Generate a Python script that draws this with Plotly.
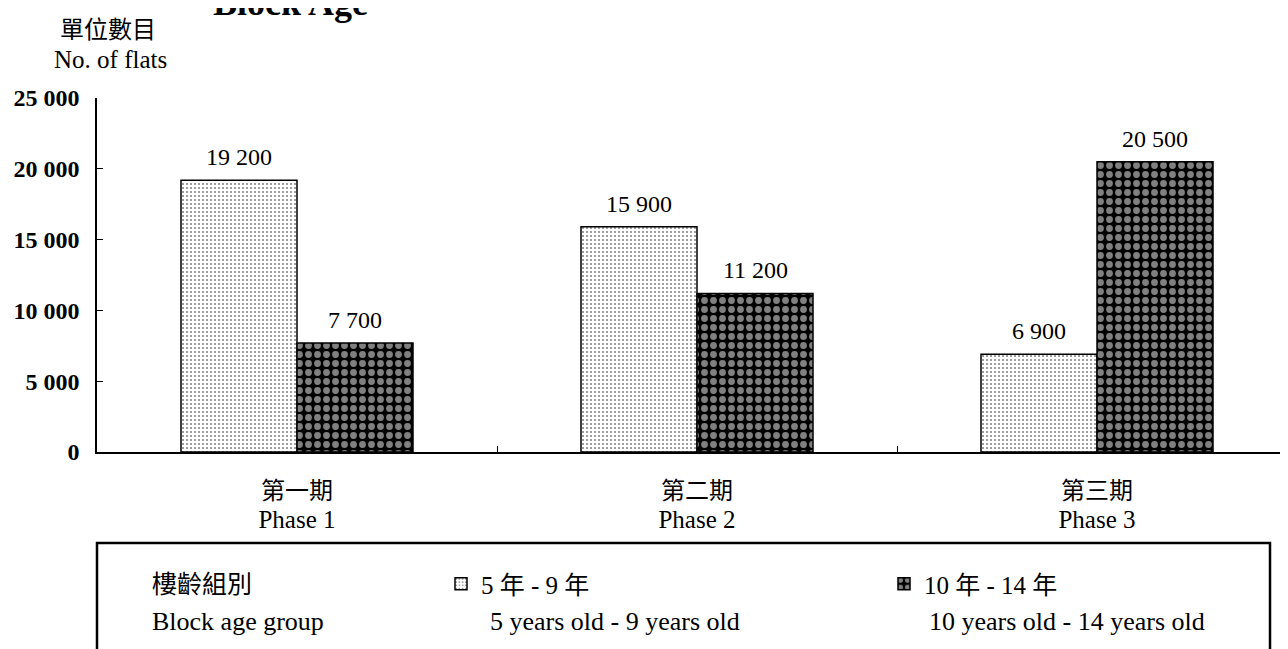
import plotly.graph_objects as go

categories = ["第一期", "第二期", "第三期"]
phase_en = ["Phase 1", "Phase 2", "Phase 3"]
series_names = ["5 年 - 9 年", "10 年 - 14 年"]
series_en = ["5 years old - 9 years old", "10 years old - 14 years old"]
age_5_9 = [19200, 15900, 6900]
age_10_14 = [7700, 11200, 20500]
y_ticks = [0, 5000, 10000, 15000, 20000, 25000]

SERIF = "Liberation Serif, Noto Sans CJK TC, serif"
CJK = "Noto Sans CJK TC, Liberation Serif, sans-serif"

# page has an 8px body margin: figure is 8px smaller so that it fits the window
OFF = 8
W, H = 1288 - OFF, 649 - OFF
ML, MT, MR = 97 - OFF, 98 - OFF, 0
MB = H - (452 - OFF)
PW = W - ML - MR
PH = H - MT - MB


def py(p):  # screen pixel y -> paper y
    return (452 - p) / PH


def px(p):  # screen pixel x -> paper x
    return (p - 97) / PW


fig = go.Figure()
fig.add_trace(go.Bar(
    x=categories, y=age_5_9, name=series_names[0], legend="legend",
    marker=dict(color="white", line=dict(color="black", width=1.5),
                pattern=dict(shape=".", fgcolor="black", bgcolor="white", size=4, solidity=0.2)),
))
fig.add_trace(go.Bar(
    x=categories, y=age_10_14, name=series_names[1], legend="legend2",
    marker=dict(color="black", line=dict(color="black", width=1.5),
                pattern=dict(shape=".", fgcolor="white", bgcolor="black", size=9, solidity=0.45)),
))

# value labels
for vals, shift in ((age_5_9, -58), (age_10_14, 58)):
    for c, v in zip(categories, vals):
        fig.add_annotation(x=c, y=v, xref="x", yref="y", text=f"{v:,}".replace(",", " "),
                           showarrow=False, xanchor="center", yanchor="bottom",
                           xshift=shift, yshift=8,
                           font=dict(family=SERIF, size=24, color="black"))


def note(x, y, text, family, size, xanchor="left", bold=False):
    fig.add_annotation(x=px(x), y=py(y), xref="paper", yref="paper", text=text,
                       showarrow=False, xanchor=xanchor, yanchor="middle",
                       font=dict(family=family, size=size, color="black",
                                 weight="bold" if bold else "normal"))


# axis title (top-left)
note(58, 27, "單位數目", CJK, 24)
note(52, 59, "No. of flats", SERIF, 25)
# chart title (cropped at the top edge)
note(290, 3, "Block Age", SERIF, 36, xanchor="center", bold=True)

# legend box
fig.add_shape(type="rect", xref="paper", yref="paper",
              x0=0, x1=px(1270), y0=py(543), y1=py(690),
              line=dict(color="black", width=2.5), fillcolor="rgba(0,0,0,0)")
note(150, 582, "樓齡組別", CJK, 25)
note(150, 621, "Block age group", SERIF, 26)
note(488, 621, series_en[0], SERIF, 26)
note(927, 621, series_en[1], SERIF, 26)

ticktext = [f"<span style='font-size:24px'>{c}</span><br><span style='font-size:25px'>{p}</span>"
            for c, p in zip(categories, phase_en)]

legend_common = dict(orientation="h", xanchor="left", yanchor="top", valign="middle",
                     font=dict(family=SERIF, size=25, color="black"),
                     bgcolor="rgba(0,0,0,0)", borderwidth=0)

fig.update_layout(
    width=W, height=H,
    margin=dict(l=ML, r=MR, t=MT, b=MB, autoexpand=False),
    plot_bgcolor="white", paper_bgcolor="white",
    barmode="group", bargap=0.42, bargroupgap=0,
    separators=". ",
    font=dict(family=SERIF, color="black"),
    showlegend=True,
    legend=dict(x=px(441), y=py(561), **legend_common),
    legend2=dict(x=px(884), y=py(561), **legend_common),
    xaxis=dict(range=[-0.5, -0.5 + PW / 400.0], showline=True, linecolor="black", linewidth=1.5,
               ticks="inside", ticklen=6, tickcolor="black", tickson="boundaries",
               tickvals=categories, ticktext=ticktext, ticklabelstandoff=19,
               tickfont=dict(family=SERIF, size=22, color="black"), showgrid=False),
    yaxis=dict(range=[0, 25000], tickvals=y_ticks, tickformat=",",
               showline=True, linecolor="black", linewidth=1.5,
               ticks="inside", ticklen=6, tickcolor="black", showgrid=False, zeroline=False,
               tickfont=dict(family="Liberation Serif", size=24, color="black", weight="bold"),
               ticklabelstandoff=11),
)

fig.write_html("out.html")
